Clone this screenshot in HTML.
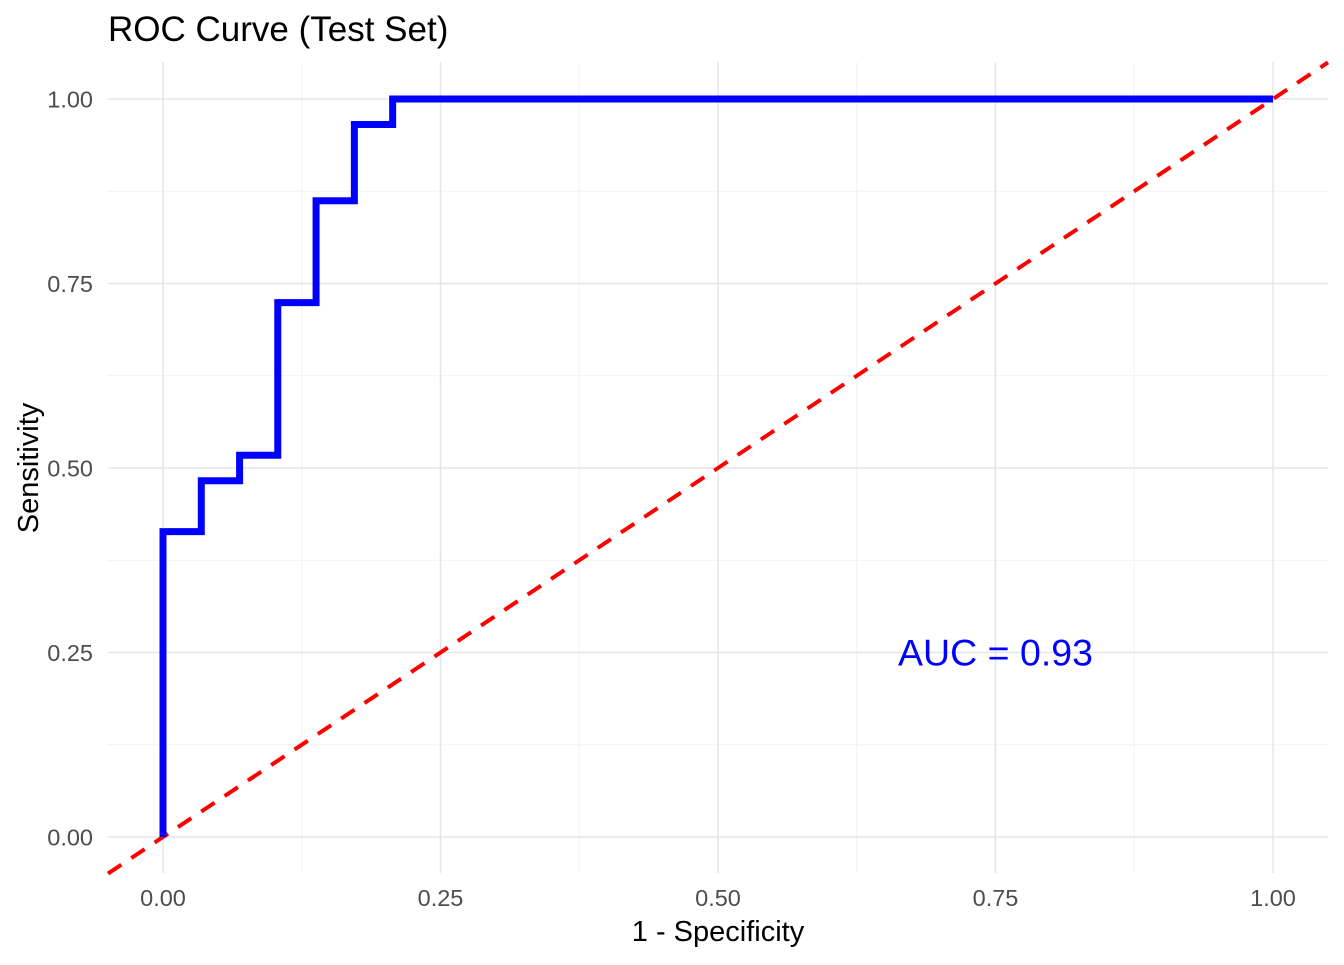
<!DOCTYPE html>
<html><head><meta charset="utf-8"><style>
body{margin:0;background:#fff;}
svg text{font-family:"Liberation Sans",Arial,sans-serif;}
</style></head><body>
<svg id="chart" width="1344" height="960" xmlns="http://www.w3.org/2000/svg">
<text x="108" y="41" font-size="35" fill="#000">ROC Curve (Test Set)</text>
<g id="grid"></g>
<g id="ticks"></g>
<g id="series"></g>
<text x="718" y="941" font-size="29" text-anchor="middle" fill="#000">1 - Specificity</text>
<text transform="translate(38,468) rotate(-90)" font-size="29" text-anchor="middle" fill="#000">Sensitivity</text>
</svg>
<script>
const fprValues=[0,0,0.0345,0.069,0.1034,0.1379,0.1724,0.2069,1];
const tprValues=[0,0.4138,0.4828,0.5172,0.7241,0.8621,0.9655,1,1];
const tickValues=[0,0.25,0.5,0.75,1];
const tickLabels=["0.00","0.25","0.50","0.75","1.00"];
const minorTicks=[0.125,0.375,0.625,0.875];
const aucLabel="AUC = 0.93";
const aucPos=[0.75,0.25];

const X=v=>163+v*1110, Y=v=>837-v*738;
const NS="http://www.w3.org/2000/svg";
function mk(tag,attrs,parent){const e=document.createElementNS(NS,tag);for(const k in attrs)e.setAttribute(k,attrs[k]);parent.appendChild(e);return e;}
const grid=document.getElementById('grid'),ticks=document.getElementById('ticks'),series=document.getElementById('series');
const L=108,R=1328,T=62,B=873;
minorTicks.forEach(v=>{
 let a=mk('line',{x1:X(v),x2:X(v),y1:T,y2:B,stroke:'#f2f2f2','stroke-width':1},grid);
 
 let b=mk('line',{x1:L,x2:R,y1:Y(v),y2:Y(v),stroke:'#f2f2f2','stroke-width':1},grid);
 
});
tickValues.forEach((v,i)=>{
 let a=mk('line',{x1:X(v),x2:X(v),y1:T,y2:B,stroke:'#e5e5e5','stroke-width':1.5},grid);
 
 let b=mk('line',{x1:L,x2:R,y1:Y(v),y2:Y(v),stroke:'#e5e5e5','stroke-width':1.5},grid);
 
 let t=mk('text',{x:X(v),y:906,'font-size':23.5,'text-anchor':'middle',fill:'#4d4d4d'},ticks);t.textContent=tickLabels[i];
 
 let u=mk('text',{x:93,y:Y(v)+8.5,'font-size':23.5,'text-anchor':'end',fill:'#4d4d4d'},ticks);u.textContent=tickLabels[i];
 
});
const x0=(L-163)/1110,x1=(R-163)/1110;
let d=mk('line',{x1:X(x0),y1:Y(x0),x2:X(x1),y2:Y(x1),stroke:'#ff0000','stroke-width':4,'stroke-dasharray':'16,12'},series);

let p='M'+X(fprValues[0])+','+Y(tprValues[0]);
for(let i=1;i<fprValues.length;i++){p+=' L'+X(fprValues[i])+','+Y(tprValues[i-1])+' L'+X(fprValues[i])+','+Y(tprValues[i]);}
let c=mk('path',{d:p,fill:'none',stroke:'#0000ff','stroke-width':7,'stroke-linejoin':'miter'},series);

let a=mk('text',{x:X(aucPos[0]),y:Y(aucPos[1])+13,'font-size':37.5,'text-anchor':'middle',fill:'#0000ff'},series);a.textContent=aucLabel;

</script>
</body></html>
